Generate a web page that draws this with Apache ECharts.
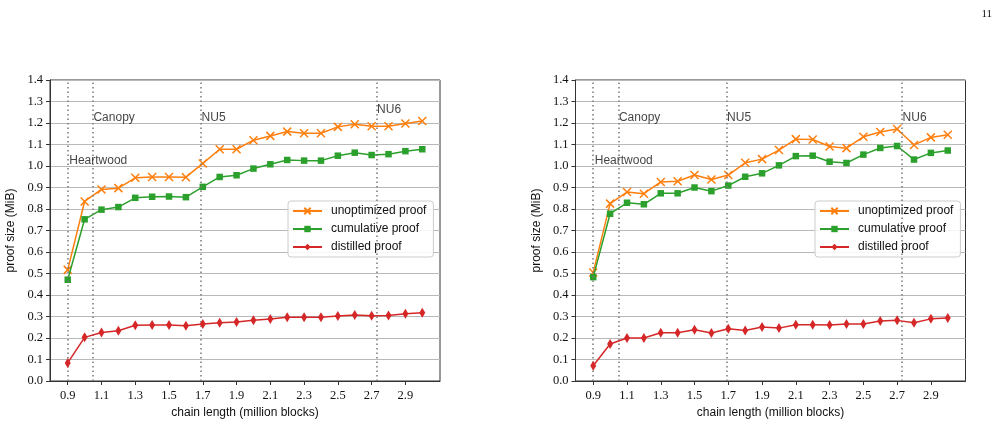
<!DOCTYPE html>
<html><head><meta charset="utf-8">
<script src="https://cdn.jsdelivr.net/npm/echarts@6/dist/echarts.min.js"></script>
<style>html,body{margin:0;padding:0;background:#fff}#c{width:1005px;height:427px}</style>
</head><body><div id="c"></div>
<script>
// ---- data ----
const chainLength = [0.9,1.0,1.1,1.2,1.3,1.4,1.5,1.6,1.7,1.8,1.9,2.0,2.1,2.2,2.3,2.4,2.5,2.6,2.7,2.8,2.9,3.0];
const xTickValues = [0.9,1.1,1.3,1.5,1.7,1.9,2.1,2.3,2.5,2.7,2.9];
const seriesNames = ['unoptimized proof','cumulative proof','distilled proof'];

const leftUnoptimized = [0.517,0.835,0.891,0.897,0.945,0.949,0.949,0.948,1.012,1.078,1.078,1.120,1.140,1.160,1.152,1.152,1.182,1.194,1.185,1.185,1.198,1.209];
const leftCumulative  = [0.471,0.752,0.797,0.809,0.852,0.857,0.858,0.855,0.903,0.949,0.957,0.988,1.008,1.028,1.025,1.025,1.048,1.062,1.051,1.055,1.069,1.078];
const leftDistilled   = [0.084,0.203,0.226,0.234,0.259,0.260,0.260,0.257,0.265,0.271,0.274,0.282,0.288,0.296,0.296,0.296,0.302,0.307,0.303,0.305,0.313,0.317];

const rightUnoptimized = [0.505,0.825,0.879,0.871,0.926,0.929,0.958,0.937,0.958,1.015,1.032,1.074,1.125,1.123,1.091,1.083,1.136,1.158,1.172,1.098,1.133,1.145];
const rightCumulative  = [0.483,0.778,0.829,0.822,0.873,0.873,0.900,0.883,0.909,0.950,0.966,1.003,1.046,1.048,1.020,1.014,1.053,1.084,1.093,1.030,1.061,1.072];
const rightDistilled   = [0.071,0.172,0.200,0.200,0.224,0.224,0.238,0.223,0.243,0.235,0.251,0.246,0.262,0.262,0.260,0.265,0.265,0.279,0.282,0.271,0.289,0.293];

const upgradeNames   = ['Heartwood','Canopy','NU5','NU6'];
const upgradeHeights = [0.903,1.0464,1.687,2.7264];
const leftLabelY     = [1.025,1.225,1.225,1.26];
const rightLabelY    = [1.025,1.225,1.225,1.225];

const colors = ['#ff7f0e','#2ca02c','#d62728'];
const xMarker = 'path://M0,0L10,10M10,0L0,10';

// ---- build ----
const sansFont = 'Liberation Sans';
const serifFont = 'Liberation Serif';
const axisColor = '#333';

function xAxisFor(gi){
  return {
    type:'value', gridIndex:gi, min:0.795, max:3.105,
    name:'chain length (million blocks)', nameLocation:'middle', nameGap:25,
    nameTextStyle:{fontFamily:sansFont,fontSize:12,color:'#111'},
    axisLine:{show:true,lineStyle:{color:axisColor,width:1}},
    axisTick:{show:true,length:4,customValues:xTickValues,lineStyle:{color:axisColor}},
    axisLabel:{customValues:xTickValues,formatter:v=>v.toFixed(1),fontFamily:serifFont,fontSize:12.5,color:'#111',margin:8},
    splitLine:{show:false}
  };
}
function yAxisFor(gi){
  return {
    type:'value', gridIndex:gi, min:0, max:1.4, interval:0.1,
    name:'proof size (MiB)', nameLocation:'middle', nameGap:33, nameRotate:90,
    nameTextStyle:{fontFamily:sansFont,fontSize:12,color:'#111'},
    axisLine:{show:true,lineStyle:{color:axisColor,width:1}},
    axisTick:{show:true,length:4,lineStyle:{color:axisColor}},
    axisLabel:{formatter:v=>v.toFixed(1),fontFamily:serifFont,fontSize:12.5,color:'#111',margin:7},
    splitLine:{show:true,lineStyle:{color:'#b8b8b8',width:1}}
  };
}
function seriesFor(gi, data3, labelY){
  const symbols = [xMarker,'rect','diamond'];
  const sizes = [8,6.5,[6,10]];
  const out = data3.map((vals,i)=>({
    type:'line', name:seriesNames[i], xAxisIndex:gi, yAxisIndex:gi,
    data: chainLength.map((x,k)=>[x,vals[k]]),
    symbol:symbols[i], symbolSize:sizes[i], showAllSymbol:true,
    lineStyle:{color:colors[i],width:1.5},
    itemStyle:{color:colors[i],borderColor:colors[i],borderWidth:i===0?1.5:0},
    z:3+i, animation:false
  }));
  out[0].markLine = {
    silent:true, symbol:['none','none'], label:{show:false},
    lineStyle:{color:'#777',width:1.5,type:[1.5,3]},
    data: upgradeHeights.map(h=>({xAxis:h})),
    animation:false
  };
  out.push({
    type:'scatter', xAxisIndex:gi, yAxisIndex:gi, symbolSize:0, silent:true,
    data: upgradeHeights.map((h,k)=>[h,labelY[k],upgradeNames[k]]),
    label:{show:true,position:'right',distance:1,formatter:p=>p.data[2],fontFamily:sansFont,fontSize:12,color:'#111'},
    animation:false, z:10
  });
  return out;
}
function legendFor(left){
  return {
    left:left, top:201, orient:'vertical', data:seriesNames,
    itemWidth:29, itemHeight:8, itemGap:4,
    backgroundColor:'rgba(255,255,255,0.85)', borderColor:'#cccccc', borderWidth:1, borderRadius:3,
    padding:[3,7,3,4],
    textStyle:{fontFamily:sansFont,fontSize:12,color:'#111',padding:[0,0,0,4],height:14,lineHeight:14},
    selectedMode:false
  };
}

const option = {
  animation:false,
  backgroundColor:'#fff',
  title:{text:'11',right:8,top:4,textStyle:{fontFamily:serifFont,fontSize:11,fontWeight:'normal',color:'#111'}},
  grid:[
    {left:50,top:80,width:390,height:301,show:true,borderColor:axisColor,borderWidth:1,backgroundColor:'transparent'},
    {left:575.5,top:80,width:390,height:301,show:true,borderColor:axisColor,borderWidth:1,backgroundColor:'transparent'}
  ],
  xAxis:[xAxisFor(0),xAxisFor(1)],
  yAxis:[yAxisFor(0),yAxisFor(1)],
  legend:[legendFor(288),legendFor(815)],
  series:[
    ...seriesFor(0,[leftUnoptimized,leftCumulative,leftDistilled],leftLabelY),
    ...seriesFor(1,[rightUnoptimized,rightCumulative,rightDistilled],rightLabelY)
  ]
};
const chart = echarts.init(document.getElementById('c'),null,{renderer:'canvas'});
chart.setOption(option);
</script></body></html>
